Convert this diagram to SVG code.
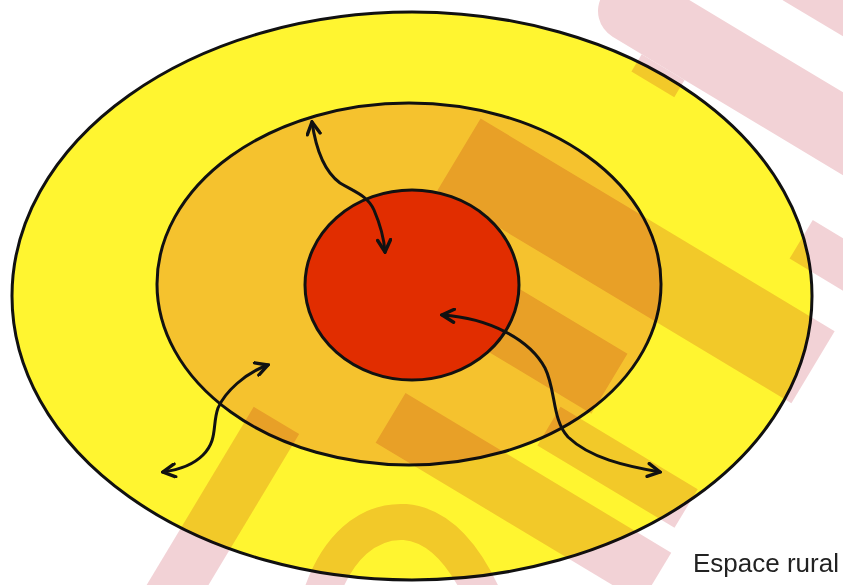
<svg xmlns="http://www.w3.org/2000/svg" width="843" height="585" viewBox="0 0 843 585">
<style>
.ring{stroke:#111;stroke-width:3}
.flow{fill:none;stroke:#111;stroke-width:3;stroke-linecap:round}
.wm{fill:#f2d2d6}
.wms{fill:none;stroke:#f2d2d6}
.lbl{font-family:"Liberation Sans",Arial,sans-serif;font-size:26px;fill:#222}
</style>
<defs>
<marker id="ah" viewBox="0 0 16 16" refX="14" refY="8" markerWidth="16" markerHeight="16" markerUnits="userSpaceOnUse" orient="auto-start-reverse">
<path d="M2,1.5 L14,8 L2,14.5" fill="none" stroke="#111" stroke-width="3.4" stroke-linecap="round" stroke-linejoin="miter"/>
</marker>
</defs>
<rect width="843" height="585" fill="#fff"/>
<g id="outer"><ellipse class="ring" cx="412" cy="296" rx="400" ry="284" fill="#fff530"/></g>
<g id="middle"><ellipse class="ring" cx="409" cy="284" rx="252" ry="181" fill="#f5c22e"/></g>
<g id="watermark" style="mix-blend-mode:multiply">
<g transform="rotate(31)">
<rect class="wm" x="427" y="218" width="53" height="262"/>
<rect class="wm" x="514" y="-355" width="600" height="71" rx="30"/>
<rect class="wm" x="578" y="-284" width="50" height="20"/>
<rect class="wm" x="671" y="-560" width="500" height="157"/>
<rect class="wm" x="810" y="-230" width="400" height="45"/>
<rect class="wm" x="473" y="-146" width="413" height="84"/>
<rect class="wm" x="540" y="-20" width="180" height="70"/>
<rect class="wm" x="690" y="60" width="160" height="45"/>
<rect class="wm" x="550" y="128" width="310" height="58"/>
</g>
<path class="wms" stroke-width="36" d="M318,605 C335,545 370,520 405,522 C440,525 465,555 485,600"/>
</g>
<g id="core"><ellipse class="ring" cx="412" cy="285" rx="107" ry="95" fill="#e12d00"/></g>
<g id="connectors">
<path class="flow" d="M312,122 C316,150 325,172 340,183 C355,192 368,196 374,210 C380,224 384,238 385,252" marker-start="url(#ah)" marker-end="url(#ah)"/>
<path class="flow" d="M442,315 C490,318 530,340 545,368 C556,390 552,420 568,437 C590,458 625,466 660,472" marker-start="url(#ah)" marker-end="url(#ah)"/>
<path class="flow" d="M268,365 C245,373 225,392 218,408 C212,425 218,440 203,455 C193,465 178,470 163,472" marker-start="url(#ah)" marker-end="url(#ah)"/>
</g>
<g id="label"><text class="lbl" x="693" y="572">Espace rural</text></g>
</svg>
